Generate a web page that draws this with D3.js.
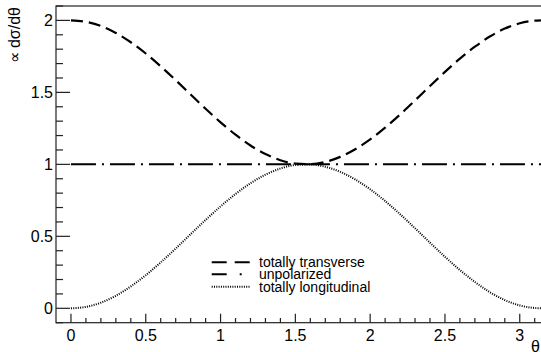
<!DOCTYPE html>
<html><head><meta charset="utf-8">
<script src="https://cdn.jsdelivr.net/npm/d3@7"></script>
<style>body{margin:0;background:#fff}svg{display:block}text{font-family:"Liberation Sans",Arial,sans-serif;fill:#000}</style>
</head><body><svg id="c" width="541" height="352"></svg>
<script>
const theta = [0,0.1,0.2,0.3,0.4,0.5,0.6,0.7,0.8,0.9,1.0,1.1,1.2,1.3,1.4,1.5,1.6,1.7,1.8,1.9,2.0,2.1,2.2,2.3,2.4,2.5,2.6,2.7,2.8,2.9,3.0,3.1,3.1416];
const transverse = [2,1.99,1.961,1.913,1.848,1.770,1.681,1.585,1.485,1.386,1.292,1.206,1.131,1.072,1.029,1.005,1.001,1.017,1.052,1.105,1.173,1.255,1.346,1.444,1.544,1.642,1.734,1.817,1.888,1.943,1.980,1.998,2.0];
const unpolarized = theta.map(() => 1);
const longitudinal = [0,0.010,0.039,0.087,0.152,0.230,0.319,0.415,0.515,0.614,0.708,0.794,0.869,0.928,0.971,0.995,0.999,0.983,0.948,0.895,0.827,0.745,0.654,0.556,0.456,0.358,0.266,0.183,0.112,0.057,0.020,0.002,0];
const xTicks = [0,0.5,1,1.5,2,2.5,3];
const yTicks = [0,0.5,1,1.5,2];
const legendLabels = ["totally transverse","unpolarized","totally longitudinal"];

const svg = d3.select("#c");
const L = 56, T = 6, B = 322.7;
const x = d3.scaleLinear().domain([-0.1, 3.2416]).range([L, L + 3.3416*149.6]);
const y = d3.scaleLinear().domain([-0.1, 2.1]).range([B, T]);

// frame
svg.append("rect").attr("x", L).attr("y", T).attr("width", x(3.2416)-L).attr("height", B-T)
  .attr("fill","none").attr("stroke","#222").attr("stroke-width",1.2);

// x axis ticks
const gx = svg.append("g");
d3.range(0, 32).map(i => i/10).forEach(v => {
  const major = Math.abs(v*2 - Math.round(v*2)) < 1e-6;
  gx.append("line").attr("x1", x(v)).attr("x2", x(v)).attr("y1", B).attr("y2", B - (major?9:4.7))
    .attr("stroke","#222").attr("stroke-width",1.2);
});
xTicks.forEach(v => {
  gx.append("text").attr("x", x(v)).attr("y", 340.5).attr("text-anchor","middle").attr("font-size",16).text(d3.format("")(v));
});
// y axis ticks
const gy = svg.append("g");
d3.range(-1, 22).map(i => i/10).forEach(v => {
  if (v < -0.1 || v > 2.1) return;
  const major = Math.abs(v*2 - Math.round(v*2)) < 1e-6;
  gy.append("line").attr("x1", L).attr("x2", L + (major?14:7)).attr("y1", y(v)).attr("y2", y(v))
    .attr("stroke","#222").attr("stroke-width",1.2);
});
yTicks.forEach(v => {
  gy.append("text").attr("x", 53).attr("y", y(v)).attr("dy","0.36em").attr("text-anchor","end").attr("font-size",16).text(d3.format("")(v));
});

// titles
svg.append("text").attr("transform","translate(20,7) rotate(-90)").attr("text-anchor","end").attr("font-size",16).text("∝ dσ/dθ");
svg.append("text").attr("x",531).attr("y",352).attr("font-size",16).text("θ");

// curves
const line = d3.line().x((d,i)=>x(theta[i])).y(d=>y(d)).curve(d3.curveMonotoneX);
const styles = [
  {data: transverse, dash: "12,6", w: 2.2},
  {data: unpolarized, dash: "25,6,2,6", w: 2},
  {data: longitudinal, dash: "1,1.3", w: 2}
];
styles.forEach(s => {
  svg.append("path").attr("d", line(s.data)).attr("fill","none").attr("stroke","#000")
    .attr("stroke-width", s.w).attr("stroke-dasharray", s.dash);
});

// legend
const legDash = ["15,8", "15,13,2,20", "1,1.3"];
const legY = [262.3, 274.3, 286.7];
legendLabels.forEach((t,i) => {
  svg.append("line").attr("x1",211.7).attr("x2",250).attr("y1",legY[i]).attr("y2",legY[i])
    .attr("stroke","#000").attr("stroke-width",2).attr("stroke-dasharray",legDash[i]);
  svg.append("text").attr("x",259).attr("y",legY[i]).attr("dy","0.36em").attr("font-size",14).text(t);
});
</script></body></html>
